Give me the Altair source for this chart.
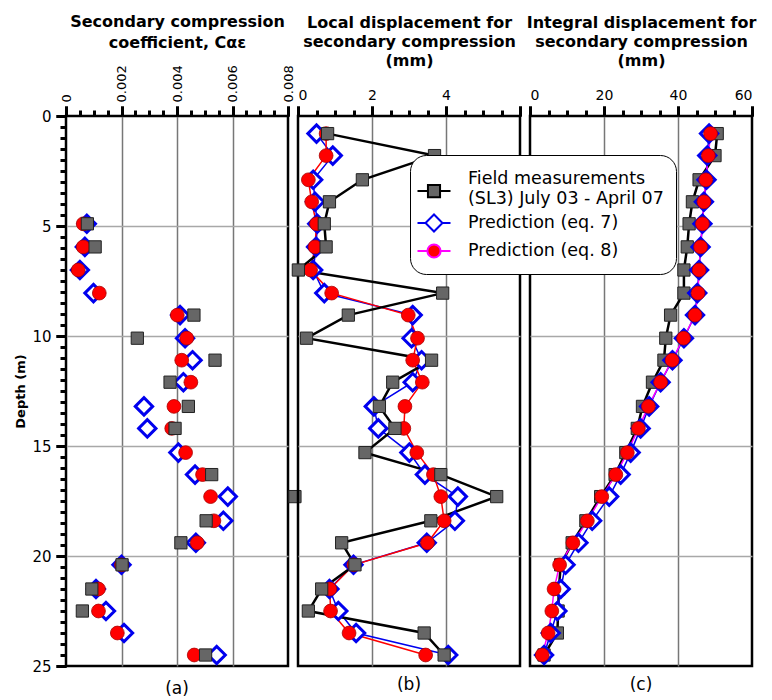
import altair as alt
import pandas as pd

# ---------------- data ----------------
depth = [0.8, 1.8, 2.9, 3.9, 4.9, 5.95, 7.0, 8.05, 9.05, 10.1, 11.1, 12.1,
         13.2, 14.2, 15.3, 16.3, 17.3, 18.4, 19.4, 20.4, 21.5, 22.5, 23.5, 24.5]

# (a) secondary compression coefficient
a_field = [None, None, None, None, 0.00077, 0.00105, None, None, 0.00461, 0.00257,
           0.00537, 0.00375, 0.00441, 0.00393, None, 0.00525, 0.00825, 0.00505,
           0.00414, 0.00202, 0.00093, 0.00059, None, 0.00503]
a_eq7 = [None, None, None, None, 0.00075, 0.00068, 0.0005, 0.00099, 0.00411, 0.00429,
         0.00456, 0.00423, 0.00281, 0.00293, 0.00405, 0.00465, 0.00583, 0.00567,
         0.00468, 0.0020, 0.00108, 0.00144, 0.00209, 0.00543]
a_eq8 = [None, None, None, None, 0.00062, 0.00062, 0.00044, 0.0012, 0.00401, 0.00435,
         0.00417, 0.0045, 0.00389, 0.00381, 0.00431, 0.00492, 0.00521, 0.00533,
         0.00473, 0.0020, 0.00117, 0.00117, 0.00185, 0.00462]

# (b) local displacement (mm)
b_field = [0.8, 3.69, 1.74, 0.85, 0.71, 0.76, 0.01, 3.91, 1.36, 0.23, 3.61, 2.56,
           2.2, 2.62, 1.81, 3.86, 5.37, 3.59, 1.18, 1.54, 0.64, 0.28, 3.41, 3.95]
b_eq7 = [0.5, 0.94, 0.41, 0.46, 0.52, 0.49, 0.41, 0.71, 3.1, 3.07, 3.34, 3.1,
         2.05, 2.17, 3.01, 3.43, 4.32, 4.24, 3.48, 1.5, 0.85, 1.09, 1.57, 4.06]
b_eq8 = [0.76, 0.76, 0.28, 0.37, 0.5, 0.46, 0.34, 0.91, 2.98, 3.23, 3.1, 3.36,
         2.89, 2.86, 3.21, 3.66, 3.86, 3.95, 3.5, 1.51, 0.86, 0.88, 1.38, 3.45]

# (c) integral displacement (mm)
c_field = [50.6, 50.0, 45.7, 43.9, 43.0, 42.5, 41.6, 41.6, 38.0, 36.7, 36.2, 33.1,
           30.4, 29.0, 25.9, 23.0, 19.1, 15.1, 11.4, 8.3, 7.8, 7.6, 7.4, 3.8]
c_eq7 = [48.4, 47.9, 47.7, 47.0, 46.6, 46.1, 45.7, 45.2, 44.6, 41.6, 38.5, 35.3,
         32.2, 29.9, 27.2, 24.5, 21.4, 16.8, 13.1, 9.6, 8.3, 7.4, 5.6, 3.8]
c_eq8 = [48.8, 48.2, 47.5, 47.0, 46.6, 46.1, 45.7, 45.4, 44.6, 41.5, 38.4, 35.3,
         32.0, 29.3, 26.3, 23.2, 19.4, 15.5, 11.6, 8.0, 6.5, 5.9, 4.9, 3.3]

series_names = ["Field measurements|(SL3) July 03 - April 07",
                "Prediction (eq. 7)", "Prediction (eq. 8)"]

# axis tick values
y_major = [0, 5, 10, 15, 20, 25]
y_minor = [i * 0.5 for i in range(51) if (i * 0.5) % 5 != 0]
a_major = [0, 0.002, 0.004, 0.006, 0.008]
a_minor = [0.0005, 0.001, 0.0015, 0.0025, 0.003, 0.0035, 0.0045, 0.005, 0.0055,
           0.0065, 0.007, 0.0075]
b_major = [0, 2, 4, 6]
b_minor = [0.5, 1, 1.5, 2.5, 3, 3.5, 4.5, 5, 5.5]
c_major = [0, 20, 40, 60]
c_minor = [5, 10, 15, 25, 30, 35, 45, 50, 55]

df = pd.DataFrame({
    "depth": depth,
    "a_field": a_field, "a_eq7": a_eq7, "a_eq8": a_eq8,
    "b_field": b_field, "b_eq7": b_eq7, "b_eq8": b_eq8,
    "c_field": c_field, "c_eq7": c_eq7, "c_eq8": c_eq8,
})

FONT = "DejaVu Sans"
W, H = 222, 550
BLUE = "#0000ee"
RED = "#ff0000"
MAGENTA = "#ff00ff"
GREY = "#666666"
HGRID = "#a8a8a8"
VGRID = "#777777"
TW = 3

# ---------------- axes: labels / titles / grid ----------------
y_axis_major = alt.Axis(
    values=y_major, orient="left", title="Depth (m)", format="d",
    tickSize=10, tickColor="black", tickWidth=TW, grid=True,
    gridOpacity={"condition": {"test": "datum.value > 0 && datum.value < 25", "value": 1}, "value": 0},
    gridColor=HGRID, gridWidth=1.5,
    labelFontSize=15, labelPadding=5, labelFont=FONT,
    titleFont=FONT, titleFontSize=13, titleFontWeight="bold", titlePadding=4,
    domain=False,
)
y_axis_grid = alt.Axis(values=[5, 10, 15, 20], orient="left", labels=False, ticks=False,
                       domain=False, title=None, grid=True, gridColor=HGRID, gridWidth=1.5)


def x_major_axis(values, lo, hi, title, label_expr, label_size=14, angle=0, title_pad=20,
                 line_h=19):
    kw = dict(
        values=values, orient="top", title=title, labelExpr=label_expr,
        tickSize=10, tickColor="black", tickWidth=TW, grid=True,
        gridOpacity={"condition": {"test": f"datum.value > {lo} && datum.value < {hi}", "value": 1},
                     "value": 0},
        gridColor=VGRID, gridWidth=1.5,
        labelFontSize=label_size, labelFont=FONT, labelPadding=4,
        titleFont=FONT, titleFontSize=16, titleFontWeight="bold",
        titleLineHeight=line_h, titlePadding=title_pad, domain=False,
    )
    if angle:
        kw.update(labelAngle=angle, labelAlign="left", labelBaseline="middle")
    return alt.Axis(**kw)


# ---------------- axes: plain tick-only axes (major and minor) ----------------
def tick_axis(values, orient, size):
    return alt.Axis(values=values, orient=orient, tickSize=size, tickColor="black",
                    tickWidth=TW, labels=False, gridOpacity=0, domain=False, title=None)


a_axis = x_major_axis(a_major, 0.0001, 0.0079, ["Secondary compression", "coefficient, Cαε"],
                      "datum.value < 1e-6 ? '0' : format(datum.value, '.3f')",
                      label_size=13, angle=270, title_pad=14, line_h=21)
b_axis = x_major_axis(b_major, 0.1, 5.9, ["Local displacement for", "secondary compression", "(mm)"],
                      "datum.value < 6 ? format(datum.value, 'd') : ''")
c_axis = x_major_axis(c_major, 1, 59, ["Integral displacement for", "secondary compression", "(mm)"],
                      "format(datum.value, 'd')")

y_scale = alt.Scale(domain=[0, 25], reverse=True, nice=False, zero=False)


# ---------------- mark helpers ----------------
def xscale(domain):
    return alt.Scale(domain=domain, nice=False, zero=False)


def xenc(col, domain, axis):
    return alt.X(f"{col}:Q", scale=xscale(domain), axis=axis)


def yenc(axis):
    return alt.Y("depth:Q", scale=y_scale, axis=axis)


def line(col, domain, color, width, xa=None, ya=None):
    return alt.Chart(df).mark_line(color=color, strokeWidth=width).encode(
        x=xenc(col, domain, xa), y=yenc(ya), order="depth:Q")


def squares(col, domain, xa=None, ya=None):
    return alt.Chart(df).mark_point(shape="square", filled=True, fill=GREY, stroke="#222222",
                                    strokeWidth=1, size=150, opacity=1).encode(
        x=xenc(col, domain, xa), y=yenc(ya))


def diamonds(col, domain, xa=None, ya=None):
    return alt.Chart(df).mark_point(shape="diamond", filled=True, fill="white", stroke=BLUE,
                                    strokeWidth=3, size=300, opacity=1).encode(
        x=xenc(col, domain, xa), y=yenc(ya))


def circles(col, domain, xa=None, ya=None):
    return alt.Chart(df).mark_point(shape="circle", filled=True, fill=RED, stroke="#aa0000",
                                    strokeWidth=0.8, size=190, opacity=1).encode(
        x=xenc(col, domain, xa), y=yenc(ya))


def bottom_title(t):
    return alt.TitleParams(t, orient="bottom", font=FONT, fontSize=17, fontWeight="normal",
                           offset=7, anchor="middle")


# ---------------- panel (a) ----------------
da = [0, 0.008]
panel_a = alt.layer(
    diamonds("a_eq7", da, a_axis, y_axis_major),
    circles("a_eq8", da, tick_axis(a_major, "top", 10), tick_axis(y_major, "left", 10)),
    squares("a_field", da, tick_axis(a_minor, "top", 6), tick_axis(y_minor, "left", 6)),
).resolve_axis(x="independent", y="independent").properties(
    width=W, height=H, title=bottom_title("(a)"))

# ---------------- panel (b) ----------------
db = [0, 6]
legend_paths = [
    "M-1.5,1.1H-0.55M0.55,1.1H1.5M-0.55,0.55H0.55V1.65H-0.55Z",
    "M-1.5,0H-0.77M0.77,0H1.5M-0.77,0L0,-0.77L0.77,0L0,0.77Z",
    "M-1.5,0H-0.6M0.6,0H1.5M-0.6,0A0.6,0.6,0,1,0,0.6,0A0.6,0.6,0,1,0,-0.6,0Z",
]
legend = alt.Legend(
    title=None, orient="none", legendX=344, legendY=39,
    labelExpr="split(datum.label, '|')", labelFont=FONT, labelFontSize=17.5,
    labelLimit=400, labelOffset=22, rowPadding=3,
    symbolSize=484, symbolStrokeWidth=2,
    padding=12, cornerRadius=16, strokeColor="black", fillColor="white", zindex=5,
)
legend_layer = alt.Chart(df).transform_calculate(series="'x'").transform_filter("false").mark_point(
    filled=True, opacity=1, size=484, strokeWidth=2).encode(
    x=xenc("b_field", db, None), y=yenc(None),
    shape=alt.Shape("series:N", scale=alt.Scale(domain=series_names, range=legend_paths), legend=legend),
    fill=alt.Fill("series:N", scale=alt.Scale(domain=series_names, range=[GREY, "white", RED])),
    stroke=alt.Stroke("series:N", scale=alt.Scale(domain=series_names, range=["black", BLUE, MAGENTA])),
)

panel_b = alt.layer(
    line("b_eq7", db, BLUE, 1.5, b_axis, y_axis_grid),
    line("b_eq8", db, RED, 1.5, tick_axis(b_major, "top", 10)),
    line("b_field", db, "black", 2.5, tick_axis(b_minor, "top", 6)),
    diamonds("b_eq7", db),
    circles("b_eq8", db),
    squares("b_field", db),
    legend_layer,
).resolve_axis(x="independent", y="independent").properties(
    width=W, height=H, title=bottom_title("(b)"))

# ---------------- panel (c) ----------------
dc = [0, 60]
panel_c = alt.layer(
    line("c_field", dc, "black", 2.5, c_axis, y_axis_grid),
    line("c_eq7", dc, BLUE, 1.5, tick_axis(c_major, "top", 10)),
    line("c_eq8", dc, MAGENTA, 1.5, tick_axis(c_minor, "top", 6)),
    squares("c_field", dc),
    diamonds("c_eq7", dc),
    circles("c_eq8", dc),
).resolve_axis(x="independent", y="independent").properties(
    width=W, height=H, title=bottom_title("(c)"))

chart = alt.hconcat(panel_a, panel_b, panel_c, spacing=10, bounds="flush").properties(
    padding={"left": 13, "top": 12, "right": 0, "bottom": 5}
).resolve_scale(x="independent").configure_view(
    stroke="black", strokeWidth=2.5
).configure_axis(
    labelColor="black", titleColor="black"
)

chart.save("out.html", embed_options={"renderer": "svg", "actions": False})
